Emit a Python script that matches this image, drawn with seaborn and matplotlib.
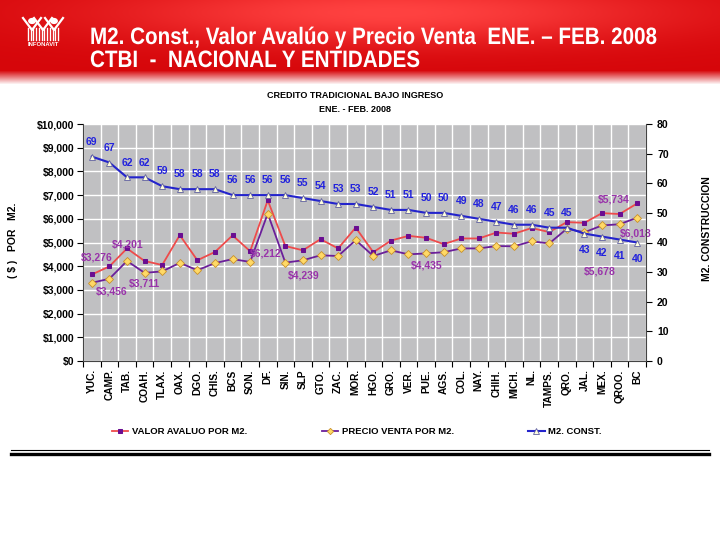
import numpy as np
import pandas as pd
import matplotlib
matplotlib.use("Agg")
import matplotlib.pyplot as plt
import seaborn as sns
from matplotlib import font_manager as fm
from matplotlib.lines import Line2D
from matplotlib.patches import Circle, PathPatch
from matplotlib.textpath import TextPath
from matplotlib.transforms import Affine2D
from matplotlib.ticker import FixedLocator, FuncFormatter

# ---------------- data ----------------
estados = ["YUC.", "CAMP.", "TAB.", "COAH.", "TLAX.", "OAX.", "DGO.", "CHIS.", "BCS", "SON.",
           "DF.", "SIN.", "SLP", "GTO.", "ZAC.", "MOR.", "HGO.", "GRO.", "VER.", "PUE.",
           "AGS.", "COL.", "NAY.", "CHIH.", "MICH.", "NL.", "TAMPS.", "QRO.", "JAL.", "MEX.",
           "QROO.", "BC"]
valor_avaluo = [3650, 3990, 4750, 4220, 4050, 5310, 4250, 4600, 5300, 4630,
                6780, 4850, 4670, 5140, 4750, 5630, 4590, 5080, 5280, 5200,
                4930, 5170, 5170, 5420, 5370, 5610, 5440, 5860, 5830, 6240,
                6200, 6650]
precio_venta = [3300, 3470, 4220, 3720, 3780, 4140, 3830, 4130, 4300, 4180,
                6220, 4150, 4250, 4460, 4430, 5100, 4430, 4670, 4500, 4540,
                4590, 4750, 4750, 4850, 4840, 5050, 4960, 5580, 5430, 5720,
                5770, 6050]
m2_const = [69, 67, 62, 62, 59, 58, 58, 58, 56, 56, 56, 56, 55, 54, 53, 53, 52, 51, 51, 50,
            50, 49, 48, 47, 46, 46, 45, 45, 43, 42, 41, 40]
# free-floating price labels: text, category index, $ level
precio_textos = ["$3,276", "$3,456", "$4,201", "$3,711", "$6,212", "$4,239", "$4,435",
                 "$5,678", "$5,734", "$6,018"]
precio_texto_x = [0.3, 1.13, 2.02, 2.98, 9.87, 12.02, 19.06, 28.9, 29.69, 30.9]
precio_texto_y = [4360, 2920, 4920, 3280, 4540, 3590, 4010, 3770, 6820, 5360]

y_left_ticks = list(range(0, 10001, 1000))
y_right_ticks = list(range(0, 81, 10))

titulo_1 = "M2. Const., Valor Avalúo y Precio Venta  ENE. – FEB. 2008"
titulo_2 = "CTBI  -  NACIONAL Y ENTIDADES"

df = pd.DataFrame({"pos": np.arange(len(estados)), "estado": estados,
                   "valor": valor_avaluo, "precio": precio_venta, "m2": m2_const})

# ---------------- style ----------------
plt.rcParams["font.family"] = ["Liberation Sans", "DejaVu Sans"]

W, H = 720, 540
fig = plt.figure(figsize=(7.2, 5.4), dpi=100)
fig.patch.set_facecolor("white")

def px(x, y):
    return (x / W, 1 - y / H)

# header gradient band
hh = 86
yy, xx = np.mgrid[0:hh, 0:W]
hl = np.exp(-((xx - 390) / 280.0) ** 2 - ((yy - 12) / 32.0) ** 2)
img = np.zeros((hh, W, 3))
img[..., 0] = 214 + 41 * hl
img[..., 1] = 6 + 60 * hl
img[..., 2] = 10 + 55 * hl
fade = np.clip((yy - 70) / 14.0, 0, 1)[..., None]
img = img * (1 - fade) + 255 * fade
fig.figimage(np.clip(img, 0, 255).astype(np.uint8), xo=0, yo=H - hh, origin="upper", zorder=0)

# condensed header text drawn as scaled glyph outlines
head_prop = fm.FontProperties(family="Liberation Sans", weight="bold")
cap_px = 17.0
size_px = cap_px / 0.716
tp1 = TextPath((0, 0), titulo_1, size=size_px, prop=head_prop)
w1 = tp1.get_extents().width
sx = 565.0 / w1
for txt, base_y in ((titulo_1, 44), (titulo_2, 67)):
    tp = TextPath((0, 0), txt, size=size_px, prop=head_prop)
    tr = Affine2D().scale(sx / W, 1.0 / H).translate(90 / W, 1 - base_y / H) + fig.transFigure
    fig.add_artist(PathPatch(tp, transform=tr, facecolor="white", edgecolor="none", zorder=3))

# simple logo
for cx in (32, 54):
    fig.add_artist(Circle(px(cx, 21), 3.2 / W, transform=fig.transFigure, color="white",
                          zorder=3))
for cx in (32, 43, 54):
    fig.add_artist(Line2D([px(cx - 9, 18)[0], px(cx, 30)[0], px(cx + 9, 18)[0]],
                          [px(cx - 9, 18)[1], px(cx, 30)[1], px(cx + 9, 18)[1]],
                          color="white", lw=1.6, transform=fig.transFigure, zorder=3))
    for dx in (-4, -1.3, 1.3, 4):
        fig.add_artist(Line2D([px(cx + dx, 28)[0], px(cx + dx, 40)[0]],
                              [px(cx + dx, 28)[1], px(cx + dx, 40)[1]],
                              color="white", lw=1.0, transform=fig.transFigure, zorder=3))
fig.text(*px(43, 45), "INFONAVIT", color="white", fontsize=4.2, fontweight="bold",
         ha="center", va="center")

# ---------------- main chart ----------------
l, r, t, b = 83, 646, 124, 361
ax = fig.add_axes([l / W, 1 - b / H, (r - l) / W, (b - t) / H])
ax.set_facecolor("#C0C0C2")
ax2 = ax.twinx()

sns.lineplot(data=df, x="pos", y="valor", ax=ax, sort=False, color="#EE4B4B", lw=1.3,
             marker="s", markersize=3.5, markerfacecolor="#6A0D91", markeredgecolor="#6A0D91",
             label="VALOR AVALUO POR M2.", legend=False, zorder=3)
sns.lineplot(data=df, x="pos", y="precio", ax=ax, sort=False, color="#6B1F9A", lw=1.3,
             marker="D", markersize=4, markerfacecolor="#FFD966", markeredgecolor="#C8902A",
             markeredgewidth=0.6, label="PRECIO VENTA POR M2.", legend=False, zorder=3)
sns.lineplot(data=df, x="pos", y="m2", ax=ax2, sort=False, color="#2424CC", lw=1.5,
             marker="^", markersize=5, markerfacecolor="#FFFFDD", markeredgecolor="#6060A0",
             markeredgewidth=0.6, label="M2. CONST.", legend=False, zorder=4)

n = len(estados)
ax.set_xlim(-0.5, n - 0.5)
ax.set_ylim(0, 10000)
ax2.set_ylim(0, 80)
ax.set_xticks(np.arange(n))
ax.set_xticklabels(estados, rotation=90, fontsize=7.3, fontweight="bold")
ax.xaxis.set_minor_locator(FixedLocator(np.arange(-0.5, n, 1.0)))
ax.tick_params(axis="x", which="major", length=0, pad=6)
ax.tick_params(axis="x", which="minor", length=4, width=0.8, color="black", direction="out")
ax.set_yticks(y_left_ticks)
ax.yaxis.set_major_formatter(FuncFormatter(lambda v, p: f"${v:,.0f}"))
ax.tick_params(axis="y", length=4, width=0.8, direction="out", labelsize=7.5, pad=2)
for lab in ax.get_yticklabels():
    lab.set_fontweight("bold")
ax2.set_yticks(y_right_ticks)
ax2.tick_params(axis="y", length=4, width=0.8, direction="out", labelsize=7.5, pad=4)
for lab in ax2.get_yticklabels():
    lab.set_fontweight("bold")

ax.grid(True, which="major", axis="y", color="white", lw=1.0)
ax.grid(True, which="minor", axis="x", color="white", lw=1.0)
ax.set_axisbelow(True)
ax.set_xlabel("")
ax.set_ylabel("")
ax2.set_ylabel("")
for s in ("top", "right"):
    ax.spines[s].set_visible(False)
ax2.spines["top"].set_visible(False)
ax2.spines["left"].set_visible(False)
ax2.spines["bottom"].set_visible(False)
for s in ("left", "bottom"):
    ax.spines[s].set_color("#444444")
ax2.spines["right"].set_color("#444444")

# M2 labels
for i, v in enumerate(m2_const):
    below = i >= n - 4
    ax2.annotate(str(v), (i, v), textcoords="offset points",
                 xytext=(0, -8 if below else 7), ha="center",
                 va="top" if below else "bottom",
                 color="#2222DD", fontsize=7.5, fontweight="bold", zorder=6)

# price labels
for txt, xi, yv in zip(precio_textos, precio_texto_x, precio_texto_y):
    ax.text(xi, yv, txt, color="#9933AA", fontsize=7.5, fontweight="bold",
            ha="center", va="center", zorder=6)

# chart title and axis titles
fig.text(*px(355, 96), "CREDITO TRADICIONAL BAJO INGRESO", fontsize=6.5, fontweight="bold",
         ha="center", va="center")
fig.text(*px(355, 109), "ENE. - FEB. 2008", fontsize=6.5, fontweight="bold",
         ha="center", va="center")
fig.text(*px(13, 240), "( $ )   POR   M2.", rotation=90, fontsize=7.5, fontweight="bold",
         ha="center", va="center")
fig.text(*px(707, 229), "M2. CONSTRUCCION", rotation=90, fontsize=7.5, fontweight="bold",
         ha="center", va="center")

# legend
handles = ax.get_lines()[:2] + ax2.get_lines()[:1]
labels = ["VALOR AVALUO POR M2.", "PRECIO VENTA POR M2.", "M2. CONST."]
leg = fig.legend(handles, labels, loc="center", bbox_to_anchor=px(357, 432), ncol=3,
                 frameon=False, fontsize=6.8, handlelength=1.7, columnspacing=7.9,
                 handletextpad=0.4, markerscale=0.8)
for tx in leg.get_texts():
    tx.set_fontweight("bold")

# bottom rule
fig.add_artist(Line2D([11 / W, 709 / W], [px(0, 450)[1]] * 2, color="black", lw=0.8,
                      transform=fig.transFigure))
fig.add_artist(Line2D([11 / W, 709 / W], [px(0, 453.5)[1]] * 2, color="black", lw=2.4,
                      transform=fig.transFigure))

fig.savefig("out.png", dpi=100)
